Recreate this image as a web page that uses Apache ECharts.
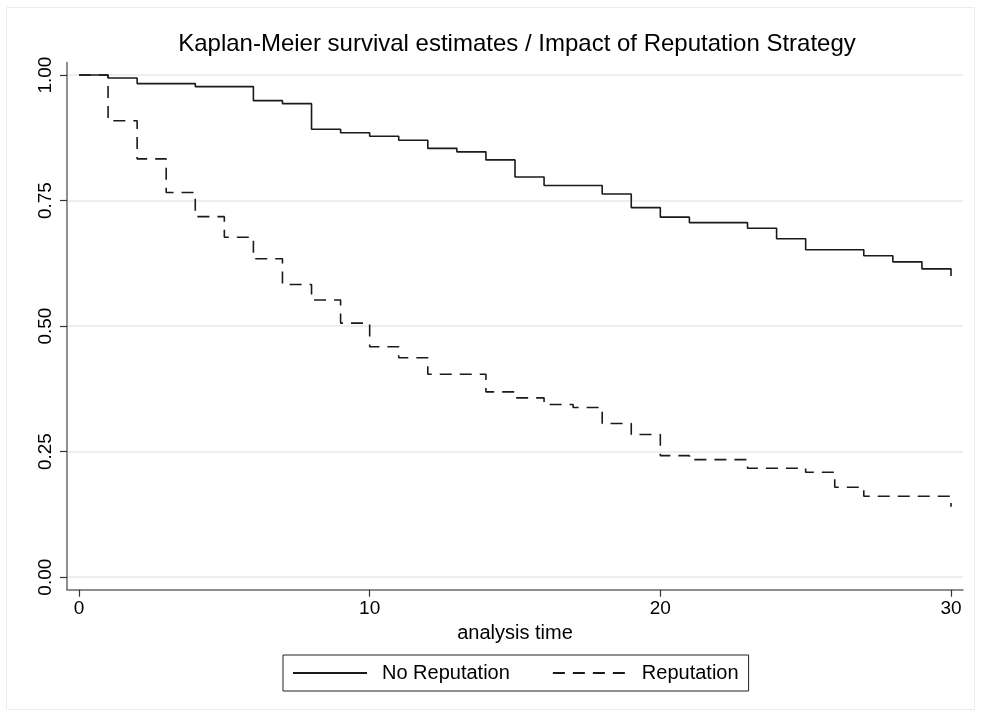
<!DOCTYPE html>
<html>
<head>
<meta charset="utf-8">
<title>Kaplan-Meier survival estimates</title>
<script src="https://cdn.jsdelivr.net/npm/echarts@6/dist/echarts.min.js"></script>
<style>
  html, body { margin: 0; padding: 0; background: #fff; }
  #kmChart { width: 981px; height: 717px; }
</style>
</head>
<body>
<div id="kmChart"></div>
<script>
// analysis time (steps)
const times = [0, 1, 2, 3, 4, 5, 6, 7, 8, 9, 10, 11, 12, 13, 14, 15,
  16, 17, 18, 19, 20, 21, 22, 23, 24, 25, 26, 27, 28, 29, 30];
const noReputation = [1.000, 0.994, 0.983, 0.983, 0.977, 0.977, 0.949, 0.943, 0.892, 0.885,
  0.878, 0.870, 0.854, 0.847, 0.831, 0.797, 0.780, 0.780, 0.763, 0.736,
  0.717, 0.706, 0.706, 0.695, 0.674, 0.652, 0.652, 0.640, 0.628, 0.614, 0.600];
const reputation = [1.000, 0.909, 0.833, 0.766, 0.718, 0.677, 0.634, 0.583, 0.552, 0.506,
  0.459, 0.437, 0.404, 0.404, 0.369, 0.357, 0.344, 0.338, 0.306, 0.284,
  0.242, 0.234, 0.234, 0.217, 0.217, 0.209, 0.179, 0.161, 0.161, 0.161, 0.140];
const xTicks = [0, 10, 20, 30];
const yTicks = [0, 0.25, 0.5, 0.75, 1];
const seriesNames = ['No Reputation', 'Reputation'];

const font = '"Liberation Sans", Arial, Helvetica, sans-serif';
const lineColor = '#1a1a1a';

function toPairs(vals) {
  return times.map((t, i) => [t, vals[i]]);
}

const chart = echarts.init(document.getElementById('kmChart'));

chart.setOption({
  animation: false,
  backgroundColor: '#fff',
  textStyle: { fontFamily: font },
  graphic: [{
    type: 'rect',
    shape: { x: 6.5, y: 7.5, width: 968, height: 702 },
    style: { fill: 'none', stroke: '#ececec', lineWidth: 1 },
    silent: true
  }],
  title: {
    text: 'Kaplan-Meier survival estimates / Impact of Reputation Strategy',
    left: 517,
    top: 32,
    padding: 0,
    textAlign: 'center',
    textStyle: { fontFamily: font, fontSize: 24, fontWeight: 'normal', color: '#000' }
  },
  legend: {
    data: seriesNames,
    left: 283,
    top: 655,
    orient: 'horizontal',
    itemWidth: 74,
    itemHeight: 14,
    itemGap: 42,
    padding: [8, 10, 8, 9],
    borderColor: '#222',
    borderWidth: 1,
    // hide the symbol dot, keep only the line sample
    itemStyle: { color: 'rgba(0,0,0,0)', borderWidth: 0 },
    textStyle: { fontFamily: font, fontSize: 20, color: '#000', padding: [0, 0, 0, 10] }
  },
  grid: {
    left: 67,
    right: 18,
    top: 62.5,
    bottom: 127.3,
    containLabel: false
  },
  xAxis: {
    type: 'value',
    min: -0.413,
    max: 30.413,
    name: 'analysis time',
    nameLocation: 'middle',
    nameGap: 34,
    nameTextStyle: { fontFamily: font, fontSize: 20, color: '#000' },
    axisLine: { show: true, onZero: false, lineStyle: { color: '#6a6a6a', width: 1.5 } },
    axisTick: { show: true, customValues: xTicks, length: 7, lineStyle: { color: '#333', width: 1.2 } },
    axisLabel: { customValues: xTicks, margin: 10, fontFamily: font, fontSize: 19, color: '#000' },
    splitLine: { show: false }
  },
  yAxis: {
    type: 'value',
    min: -0.025,
    max: 1.025,
    axisLine: { show: true, onZero: false, lineStyle: { color: '#6a6a6a', width: 1.5 } },
    axisTick: { show: true, customValues: yTicks, length: 7, lineStyle: { color: '#333', width: 1.2 } },
    axisLabel: {
      customValues: yTicks,
      rotate: 90,
      margin: 12,
      fontFamily: font,
      fontSize: 19,
      color: '#000',
      formatter: v => v.toFixed(2)
    },
    splitLine: { show: true, lineStyle: { color: '#e8e8e8', width: 1.5 } }
  },
  series: [
    {
      name: seriesNames[0],
      type: 'line',
      step: 'end',
      symbol: 'none',
      clip: false,
      data: toPairs(noReputation),
      lineStyle: { color: lineColor, width: 1.6, type: 'solid' },
      itemStyle: { color: lineColor }
    },
    {
      name: seriesNames[1],
      type: 'line',
      step: 'end',
      symbol: 'none',
      clip: false,
      data: toPairs(reputation),
      lineStyle: { color: lineColor, width: 1.6, type: [12, 8] },
      itemStyle: { color: lineColor }
    }
  ]
});
</script>
</body>
</html>
